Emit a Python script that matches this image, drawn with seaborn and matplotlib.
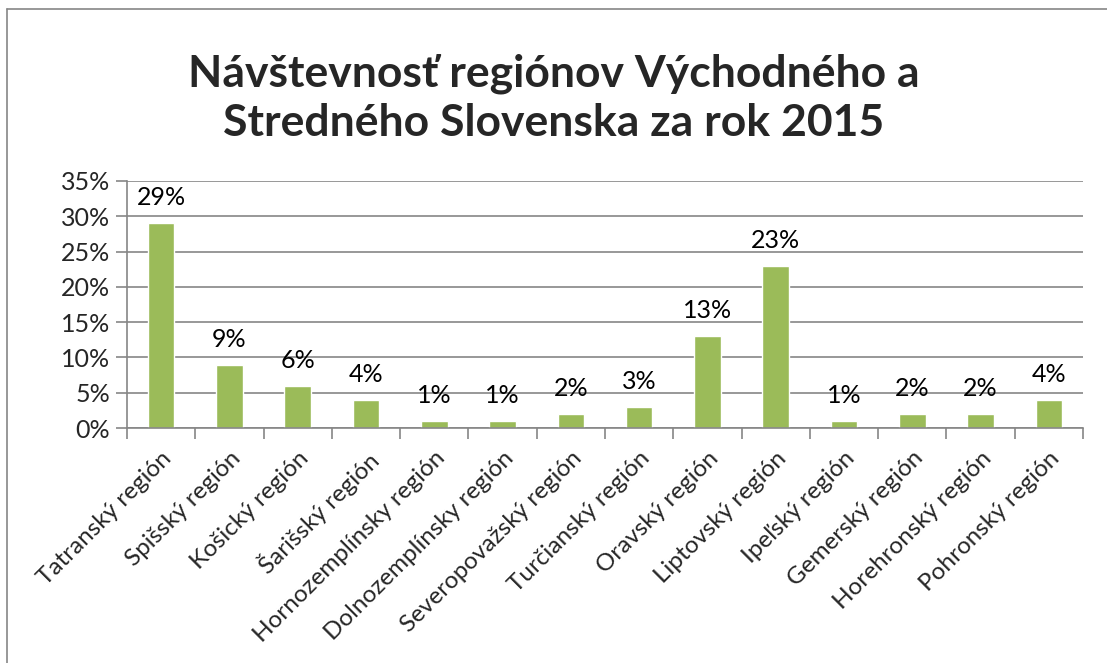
import matplotlib
matplotlib.use("Agg")
import matplotlib.pyplot as plt
import matplotlib.ticker as mticker
from matplotlib.lines import Line2D
import seaborn as sns
import pandas as pd

categories = ["Tatranský región", "Spišský región", "Košický región", "Šarišský región",
              "Hornozemplínsky región", "Dolnozemplínsky región", "Severopovažský región",
              "Turčianský región", "Oravský región", "Liptovský región", "Ipeľský región",
              "Gemerský región", "Horehronský región", "Pohronský región"]
values = [0.29, 0.09, 0.06, 0.04, 0.01, 0.01, 0.02, 0.03, 0.13, 0.23, 0.01, 0.02, 0.02, 0.04]
yticks = [0, 0.05, 0.10, 0.15, 0.20, 0.25, 0.30, 0.35]
title = "Návštevnosť regiónov Východného a\nStredného Slovenska za rok 2015"

sns.set_theme(style="white")
plt.rcParams['font.family'] = ['Lato', 'DejaVu Sans']

GRID = "#868686"
BAR = "#9BBB59"

fig = plt.figure(figsize=(11.07, 6.63), dpi=100)
ax = fig.add_axes([0.1147, 0.3544, 0.9783 - 0.1147, 0.727 - 0.3544])

df = pd.DataFrame({"cat": categories, "val": values})
sns.barplot(data=df, x="cat", y="val", color=BAR, saturation=1, width=0.39, ax=ax)

ax.set_xlim(-0.5, len(categories) - 0.5)
ax.set_ylim(0, 0.35)
ax.set_yticks(yticks)
ax.yaxis.set_major_formatter(mticker.FuncFormatter(lambda v, p: f"{v*100:.0f}%"))
ax.set_xlabel("")
ax.set_ylabel("")

ax.yaxis.grid(True, color=GRID, linewidth=1.2)
ax.set_axisbelow(True)
for s in ["top", "right"]:
    ax.spines[s].set_visible(False)
for s in ["left", "bottom"]:
    ax.spines[s].set_color(GRID)
    ax.spines[s].set_linewidth(1.2)

ax.tick_params(axis="y", which="major", length=8, color=GRID, width=1.2, labelsize=18, pad=4, left=True)
ax.set_xticks(range(len(categories)))
ax.set_xticks([i - 0.5 for i in range(len(categories) + 1)], minor=True)
ax.tick_params(axis="x", which="major", length=0, labelsize=17.5, pad=14)
ax.tick_params(axis="x", which="minor", length=8, color=GRID, width=1.2, bottom=True)
ax.set_xticklabels(categories, rotation=45, ha="right", rotation_mode="anchor")

for i, v in enumerate(values):
    ax.annotate(f"{v*100:.0f}%", (i, v), xytext=(0, 10), textcoords="offset points",
                ha="center", va="bottom", fontsize=18, color="black")

fig.suptitle(title, x=0.5, y=0.92, fontsize=32, fontweight="bold", linespacing=1.3)

# chart frame (partially visible border)
fig.add_artist(Line2D([0.0065, 0.0065], [0.0, 0.986], color=GRID, linewidth=1.2, transform=fig.transFigure))
fig.add_artist(Line2D([0.0065, 1.0], [0.986, 0.986], color=GRID, linewidth=1.2, transform=fig.transFigure))

fig.savefig("out.png", dpi=100)
